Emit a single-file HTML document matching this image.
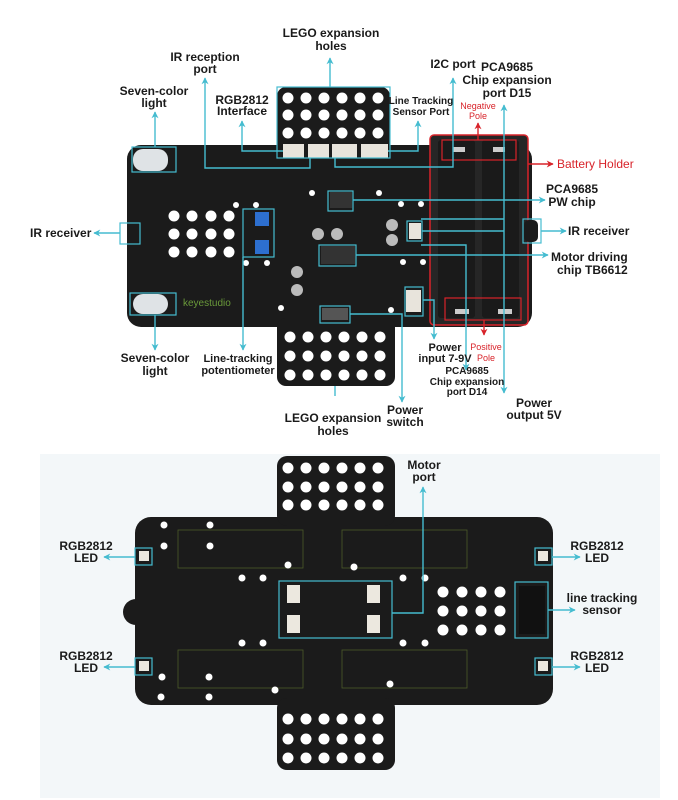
<!DOCTYPE html>
<html><head><meta charset="utf-8"><style>
html,body{margin:0;padding:0;background:#fff;}
svg{display:block}
text{font-family:"Liberation Sans",sans-serif;font-weight:bold;fill:#1a1a1a;}
</style></head><body>
<svg width="678" height="800" viewBox="0 0 678 800" xmlns="http://www.w3.org/2000/svg">
<defs>
<marker id="a" viewBox="0 0 10 10" refX="9" refY="5" markerWidth="5" markerHeight="5" orient="auto-start-reverse"><path d="M0,0L10,5L0,10L3,5z" fill="#45bcd0"/></marker>
<marker id="r" viewBox="0 0 10 10" refX="9" refY="5" markerWidth="5" markerHeight="5" orient="auto-start-reverse"><path d="M0,0L10,5L0,10L3,5z" fill="#d8232a"/></marker>
</defs>
<rect x="40" y="454" width="620" height="344" fill="#f3f7f9"/>

<rect x="127" y="145" width="405" height="182" rx="14" fill="#1b1b1b"/>
<rect x="277" y="87" width="113" height="70" rx="9" fill="#1b1b1b"/>
<rect x="277" y="318" width="118" height="68" rx="9" fill="#1b1b1b"/>
<g fill="#fff">
<g id="r6"><circle cx="288" cy="0" r="5.5"/><circle cx="306" cy="0" r="5.5"/><circle cx="324" cy="0" r="5.5"/><circle cx="342" cy="0" r="5.5"/><circle cx="360" cy="0" r="5.5"/><circle cx="378" cy="0" r="5.5"/></g>
<use href="#r6" y="98"/><use href="#r6" y="115"/><use href="#r6" y="133"/>
<use href="#r6" x="2" y="337"/><use href="#r6" x="2" y="356"/><use href="#r6" x="2" y="375"/>
<g id="r4"><circle cx="174" cy="0" r="5.5"/><circle cx="192" cy="0" r="5.5"/><circle cx="211" cy="0" r="5.5"/><circle cx="229" cy="0" r="5.5"/></g>
<use href="#r4" y="216"/><use href="#r4" y="234"/><use href="#r4" y="252"/>
<circle cx="236" cy="205" r="3"/><circle cx="256" cy="205" r="3"/><circle cx="246" cy="263" r="3"/><circle cx="267" cy="263" r="3"/>
<circle cx="312" cy="193" r="3"/><circle cx="379" cy="193" r="3"/><circle cx="401" cy="204" r="3"/><circle cx="421" cy="204" r="3"/>
<circle cx="403" cy="262" r="3"/><circle cx="423" cy="262" r="3"/><circle cx="281" cy="308" r="3"/><circle cx="391" cy="310" r="3"/>
</g>
<g fill="#e8e4dc"><rect x="283" y="144" width="21" height="14"/><rect x="308" y="144" width="21" height="14"/><rect x="332" y="144" width="25" height="14"/><rect x="361" y="144" width="27" height="14"/></g>
<rect x="133" y="149" width="35" height="22" rx="10" fill="#dfe3e6"/>
<rect x="133" y="294" width="35" height="20" rx="10" fill="#dfe3e6"/>
<rect x="255" y="212" width="14" height="14" fill="#2d6fcf"/><rect x="255" y="240" width="14" height="14" fill="#2d6fcf"/>
<rect x="330" y="192" width="22" height="16" fill="#333"/>
<rect x="321" y="246" width="34" height="18" fill="#333"/>
<circle cx="318" cy="234" r="6" fill="#bbb"/><circle cx="337" cy="234" r="6" fill="#bbb"/>
<circle cx="392" cy="225" r="6" fill="#bbb"/><circle cx="392" cy="240" r="6" fill="#bbb"/>
<circle cx="297" cy="272" r="6" fill="#bbb"/><circle cx="297" cy="290" r="6" fill="#bbb"/>
<rect x="409" y="223" width="12" height="16" fill="#e8e4dc"/>
<rect x="406" y="290" width="15" height="22" fill="#e8e4dc"/>
<rect x="322" y="308" width="26" height="12" fill="#555"/>
<text x="183" y="306" font-size="10" style="fill:#6a9a3a;font-weight:normal">keyestudio</text>
<rect x="430" y="135" width="98" height="190" rx="4" fill="#262626" stroke="#d8232a" stroke-width="1.5"/>
<rect x="438" y="140" width="37" height="178" rx="3" fill="#1a1a1a"/><rect x="482" y="140" width="37" height="178" rx="3" fill="#1a1a1a"/>
<rect x="442" y="140" width="74" height="20" fill="none" stroke="#d8232a" stroke-width="1.2"/>
<rect x="445" y="298" width="76" height="22" fill="none" stroke="#d8232a" stroke-width="1.2"/>
<rect x="453" y="147" width="12" height="5" fill="#ccc"/><rect x="493" y="147" width="12" height="5" fill="#ccc"/>
<rect x="455" y="309" width="14" height="5" fill="#ccc"/><rect x="498" y="309" width="14" height="5" fill="#ccc"/>
<rect x="524" y="220" width="14" height="22" rx="5" fill="#1b1b1b"/>

<g fill="none" stroke="#45bcd0" stroke-width="1.2">
<rect x="132" y="147" width="44" height="25"/><rect x="130" y="293" width="46" height="22"/>
<rect x="120" y="223" width="20" height="21"/><rect x="523" y="219" width="18" height="24"/>
<rect x="243" y="209" width="31" height="48"/><rect x="328" y="191" width="25" height="20"/>
<rect x="319" y="245" width="37" height="21"/><rect x="405" y="287" width="18" height="29"/>
<rect x="320" y="306" width="30" height="17"/><rect x="277" y="87" width="113" height="71"/>
<rect x="407" y="221" width="15" height="20"/>
</g>
<g fill="none" stroke="#45bcd0" stroke-width="1.4">
<path d="M330,87V58" marker-end="url(#a)"/>
<path d="M310,158V168H205V78" marker-end="url(#a)"/>
<path d="M155,147V112" marker-end="url(#a)"/>
<path d="M283,151H242V121" marker-end="url(#a)"/>
<path d="M388,151H418V121" marker-end="url(#a)"/>
<path d="M335,158V167H453V78" marker-end="url(#a)"/>
<path d="M504,105V393" marker-start="url(#a)" marker-end="url(#a)"/>
<path d="M421,219H504"/><path d="M422,231H504"/>
<path d="M421,245H466V370" marker-end="url(#a)"/>
<path d="M353,200H545" marker-end="url(#a)"/>
<path d="M541,231H566" marker-end="url(#a)"/>
<path d="M356,255H548" marker-end="url(#a)"/>
<path d="M120,233H94" marker-end="url(#a)"/>
<path d="M155,315V350" marker-end="url(#a)"/>
<path d="M243,257V350" marker-end="url(#a)"/>
<path d="M423,300H434V339" marker-end="url(#a)"/>
<path d="M350,314H402V402" marker-end="url(#a)"/>
<path d="M335,386V396"/>
</g>
<g fill="none" stroke="#d8232a" stroke-width="1.4">
<path d="M478,140V123" marker-end="url(#r)"/>
<path d="M484,320V335" marker-end="url(#r)"/>
<path d="M528,164H553" marker-end="url(#r)"/>
</g>

<g font-size="12" text-anchor="middle">
<text x="331" y="37">LEGO expansion</text><text x="331" y="50">holes</text>
<text x="205" y="61">IR reception</text><text x="205" y="73">port</text>
<text x="154" y="95">Seven-color</text><text x="154" y="107">light</text>
<text x="242" y="104">RGB2812</text><text x="242" y="115">Interface</text>
<text x="421" y="104" font-size="10">Line Tracking</text><text x="421" y="115" font-size="10">Sensor Port</text>
<text x="453" y="68">I2C port</text>
<text x="507" y="71">PCA9685</text><text x="507" y="84">Chip expansion</text><text x="507" y="97">port D15</text>
<text x="478" y="109" font-size="9" style="fill:#d8232a;font-weight:normal">Negative</text><text x="478" y="119" font-size="9" style="fill:#d8232a;font-weight:normal">Pole</text>
<text x="572" y="193">PCA9685</text><text x="572" y="206">PW chip</text>
<text x="155" y="362">Seven-color</text><text x="155" y="375">light</text>
<text x="238" y="362" font-size="11">Line-tracking</text><text x="238" y="374" font-size="11">potentiometer</text>
<text x="445" y="351" font-size="11">Power</text><text x="445" y="362" font-size="11">input 7-9V</text>
<text x="486" y="350" font-size="9" style="fill:#d8232a;font-weight:normal">Positive</text><text x="486" y="361" font-size="9" style="fill:#d8232a;font-weight:normal">Pole</text>
<text x="467" y="374" font-size="10">PCA9685</text><text x="467" y="385" font-size="10">Chip expansion</text><text x="467" y="395" font-size="10">port D14</text>
<text x="534" y="407">Power</text><text x="534" y="419">output 5V</text>
<text x="333" y="422">LEGO expansion</text><text x="333" y="435">holes</text>
<text x="405" y="414">Power</text><text x="405" y="426">switch</text>
</g>
<g font-size="12">
<text x="557" y="168" style="fill:#d8232a;font-weight:normal">Battery  Holder</text>
<text x="568" y="235">IR receiver</text>
<text x="30" y="237">IR receiver</text>
<text x="551" y="261">Motor driving</text><text x="557" y="274">chip TB6612</text>
</g>

<circle cx="136" cy="612" r="13" fill="#1b1b1b"/>
<rect x="135" y="517" width="418" height="188" rx="16" fill="#1b1b1b"/>
<rect x="277" y="456" width="118" height="70" rx="10" fill="#1b1b1b"/>
<rect x="277" y="698" width="118" height="72" rx="10" fill="#1b1b1b"/>
<g fill="none" stroke="#4c5a2a" stroke-width="0.8">
<rect x="178" y="530" width="125" height="38"/><rect x="342" y="530" width="125" height="38"/>
<rect x="178" y="650" width="125" height="38"/><rect x="342" y="650" width="125" height="38"/>
</g>
<g fill="#fff">
<use href="#r6" y="468"/><use href="#r6" y="487"/><use href="#r6" y="505"/>
<use href="#r6" y="719"/><use href="#r6" y="739"/><use href="#r6" y="758"/>
<g id="r4b"><circle cx="443" cy="0" r="5.5"/><circle cx="462" cy="0" r="5.5"/><circle cx="481" cy="0" r="5.5"/><circle cx="500" cy="0" r="5.5"/></g>
<use href="#r4b" y="592"/><use href="#r4b" y="611"/><use href="#r4b" y="630"/>
<circle cx="164" cy="525" r="3.5"/><circle cx="210" cy="525" r="3.5"/><circle cx="164" cy="546" r="3.5"/><circle cx="210" cy="546" r="3.5"/>
<circle cx="288" cy="565" r="3.5"/><circle cx="354" cy="567" r="3.5"/><circle cx="242" cy="578" r="3.5"/><circle cx="263" cy="578" r="3.5"/>
<circle cx="403" cy="578" r="3.5"/><circle cx="425" cy="578" r="3.5"/><circle cx="242" cy="643" r="3.5"/><circle cx="263" cy="643" r="3.5"/>
<circle cx="403" cy="643" r="3.5"/><circle cx="425" cy="643" r="3.5"/><circle cx="162" cy="677" r="3.5"/><circle cx="209" cy="677" r="3.5"/>
<circle cx="275" cy="690" r="3.5"/><circle cx="390" cy="684" r="3.5"/><circle cx="161" cy="697" r="3.5"/><circle cx="209" cy="697" r="3.5"/>
</g>
<g fill="#ece8df">
<rect x="287" y="585" width="13" height="18"/><rect x="367" y="585" width="13" height="18"/>
<rect x="287" y="615" width="13" height="18"/><rect x="367" y="615" width="13" height="18"/>
<rect x="139" y="551" width="10" height="10"/><rect x="538" y="551" width="10" height="10"/>
<rect x="139" y="661" width="10" height="10"/><rect x="538" y="661" width="10" height="10"/>
</g>
<rect x="519" y="586" width="26" height="48" fill="#111"/>
<g fill="none" stroke="#45bcd0" stroke-width="1.2">
<rect x="279" y="581" width="113" height="57"/><rect x="515" y="582" width="33" height="56"/>
<rect x="135" y="548" width="17" height="17"/><rect x="135" y="658" width="17" height="17"/>
<rect x="535" y="548" width="17" height="17"/><rect x="535" y="658" width="17" height="17"/>
</g>
<g fill="none" stroke="#45bcd0" stroke-width="1.4">
<path d="M392,613H423V487" marker-end="url(#a)"/>
<path d="M135,557H104" marker-end="url(#a)"/><path d="M135,667H104" marker-end="url(#a)"/>
<path d="M552,557H580" marker-end="url(#a)"/><path d="M552,667H580" marker-end="url(#a)"/>
<path d="M548,610H575" marker-end="url(#a)"/>
</g>
<g font-size="12" text-anchor="middle">
<text x="424" y="469">Motor</text><text x="424" y="481">port</text>
<text x="86" y="550">RGB2812</text><text x="86" y="562">LED</text>
<text x="86" y="660">RGB2812</text><text x="86" y="672">LED</text>
<text x="597" y="550">RGB2812</text><text x="597" y="562">LED</text>
<text x="597" y="660">RGB2812</text><text x="597" y="672">LED</text>
<text x="602" y="602">line tracking</text><text x="602" y="614">sensor</text>
</g>
</svg>
</body></html>
